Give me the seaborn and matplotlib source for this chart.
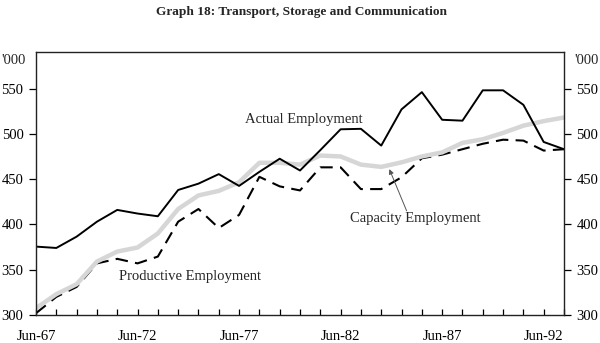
import matplotlib
matplotlib.use("Agg")
import matplotlib.pyplot as plt
import seaborn as sns
import pandas as pd
import numpy as np

# June observations, 1967-1993 ('000 persons)
years = list(range(1967, 1994))
actual = [375.5, 374, 386.5, 403, 416, 412, 409, 438, 445, 455.5, 442.5, 458,
          472.5, 459.5, 482, 505, 505.5, 487, 527, 546, 515.5, 514.5, 548, 548,
          532, 491, 483]
productive = [302, 320, 331, 357, 362, 357, 364.5, 403, 417, 396, 410.5, 452.5,
              442, 437.5, 463, 463, 439, 439, 452, 473, 477, 483, 489, 493.5,
              492.5, 481.5, 483]
capacity = [307.5, 323, 334, 359, 370, 374.5, 390, 417, 432, 437, 446.5, 468,
            468, 466, 476, 475, 466, 463.5, 468.5, 475, 479.5, 490, 494, 501,
            509, 514, 518]
label_years = [1967, 1972, 1977, 1982, 1987, 1992]
tick_labels = ["Jun-67", "Jun-72", "Jun-77", "Jun-82", "Jun-87", "Jun-92"]
y_ticks = [300, 350, 400, 450, 500, 550]

df = pd.DataFrame({"year": years, "Actual": actual,
                   "Productive": productive, "Capacity": capacity})

sns.set_theme(style="white")
plt.rcParams["font.family"] = ["Liberation Serif", "DejaVu Serif"]

fig = plt.figure(figsize=(6.0, 3.43), dpi=100)
ax = fig.add_axes([0.06, 0.0816, 0.88, 0.766])

sns.lineplot(data=df, x="year", y="Productive", ax=ax, color="black",
             linewidth=1.5, legend=False)
ax.lines[-1].set_dashes([6, 3.5])
sns.lineplot(data=df, x="year", y="Capacity", ax=ax, color="#d6d6d6",
             linewidth=3.2, legend=False)
sns.lineplot(data=df, x="year", y="Actual", ax=ax, color="black",
             linewidth=1.4, legend=False)

ax.set_xlim(1967, 1993)
ax.set_ylim(300, 590)
ax.set_xlabel("")
ax.set_ylabel("")

ax.set_xticks(years)
ax.set_xticklabels([tick_labels[label_years.index(y)] if y in label_years else ""
                    for y in years], fontsize=10.5)
ax.tick_params(axis="x", direction="in", length=4, width=0.9, pad=11,
               colors="black", bottom=True)

ax.set_yticks(y_ticks)
ax.set_yticklabels([str(v) for v in y_ticks], fontsize=10.5)
ax.tick_params(axis="y", direction="out", length=5, width=0.9, pad=4,
               left=True, right=True, labelleft=True, labelright=True,
               colors="black")

for s in ax.spines.values():
    s.set_visible(True)
    s.set_color("#222222")
    s.set_linewidth(1.0)

# unit labels above the value axes
ax.text(-0.02, 0.995, "'000", transform=ax.transAxes, fontsize=10.5,
        ha="right", va="top")
ax.text(1.02, 0.995, "'000", transform=ax.transAxes, fontsize=10.5,
        ha="left", va="top")

ax.text(1980.2, 515.7, "Actual Employment", fontsize=10.5, ha="center",
        va="center")
ax.text(1974.6, 342.4, "Productive Employment", fontsize=10.5, ha="center",
        va="center")
ax.text(1985.7, 406, "Capacity Employment", fontsize=10.5, ha="center",
        va="center")
ax.annotate("", xy=(1984.4, 461), xytext=(1985.25, 415),
            arrowprops=dict(arrowstyle="-|>", color="#555555", lw=0.7,
                            mutation_scale=7, shrinkA=0, shrinkB=0))

fig.suptitle("Graph 18: Transport, Storage and Communication", fontsize=9.6,
             fontweight="bold", x=0.503, y=0.982)

fig.savefig("out.png", dpi=100)
